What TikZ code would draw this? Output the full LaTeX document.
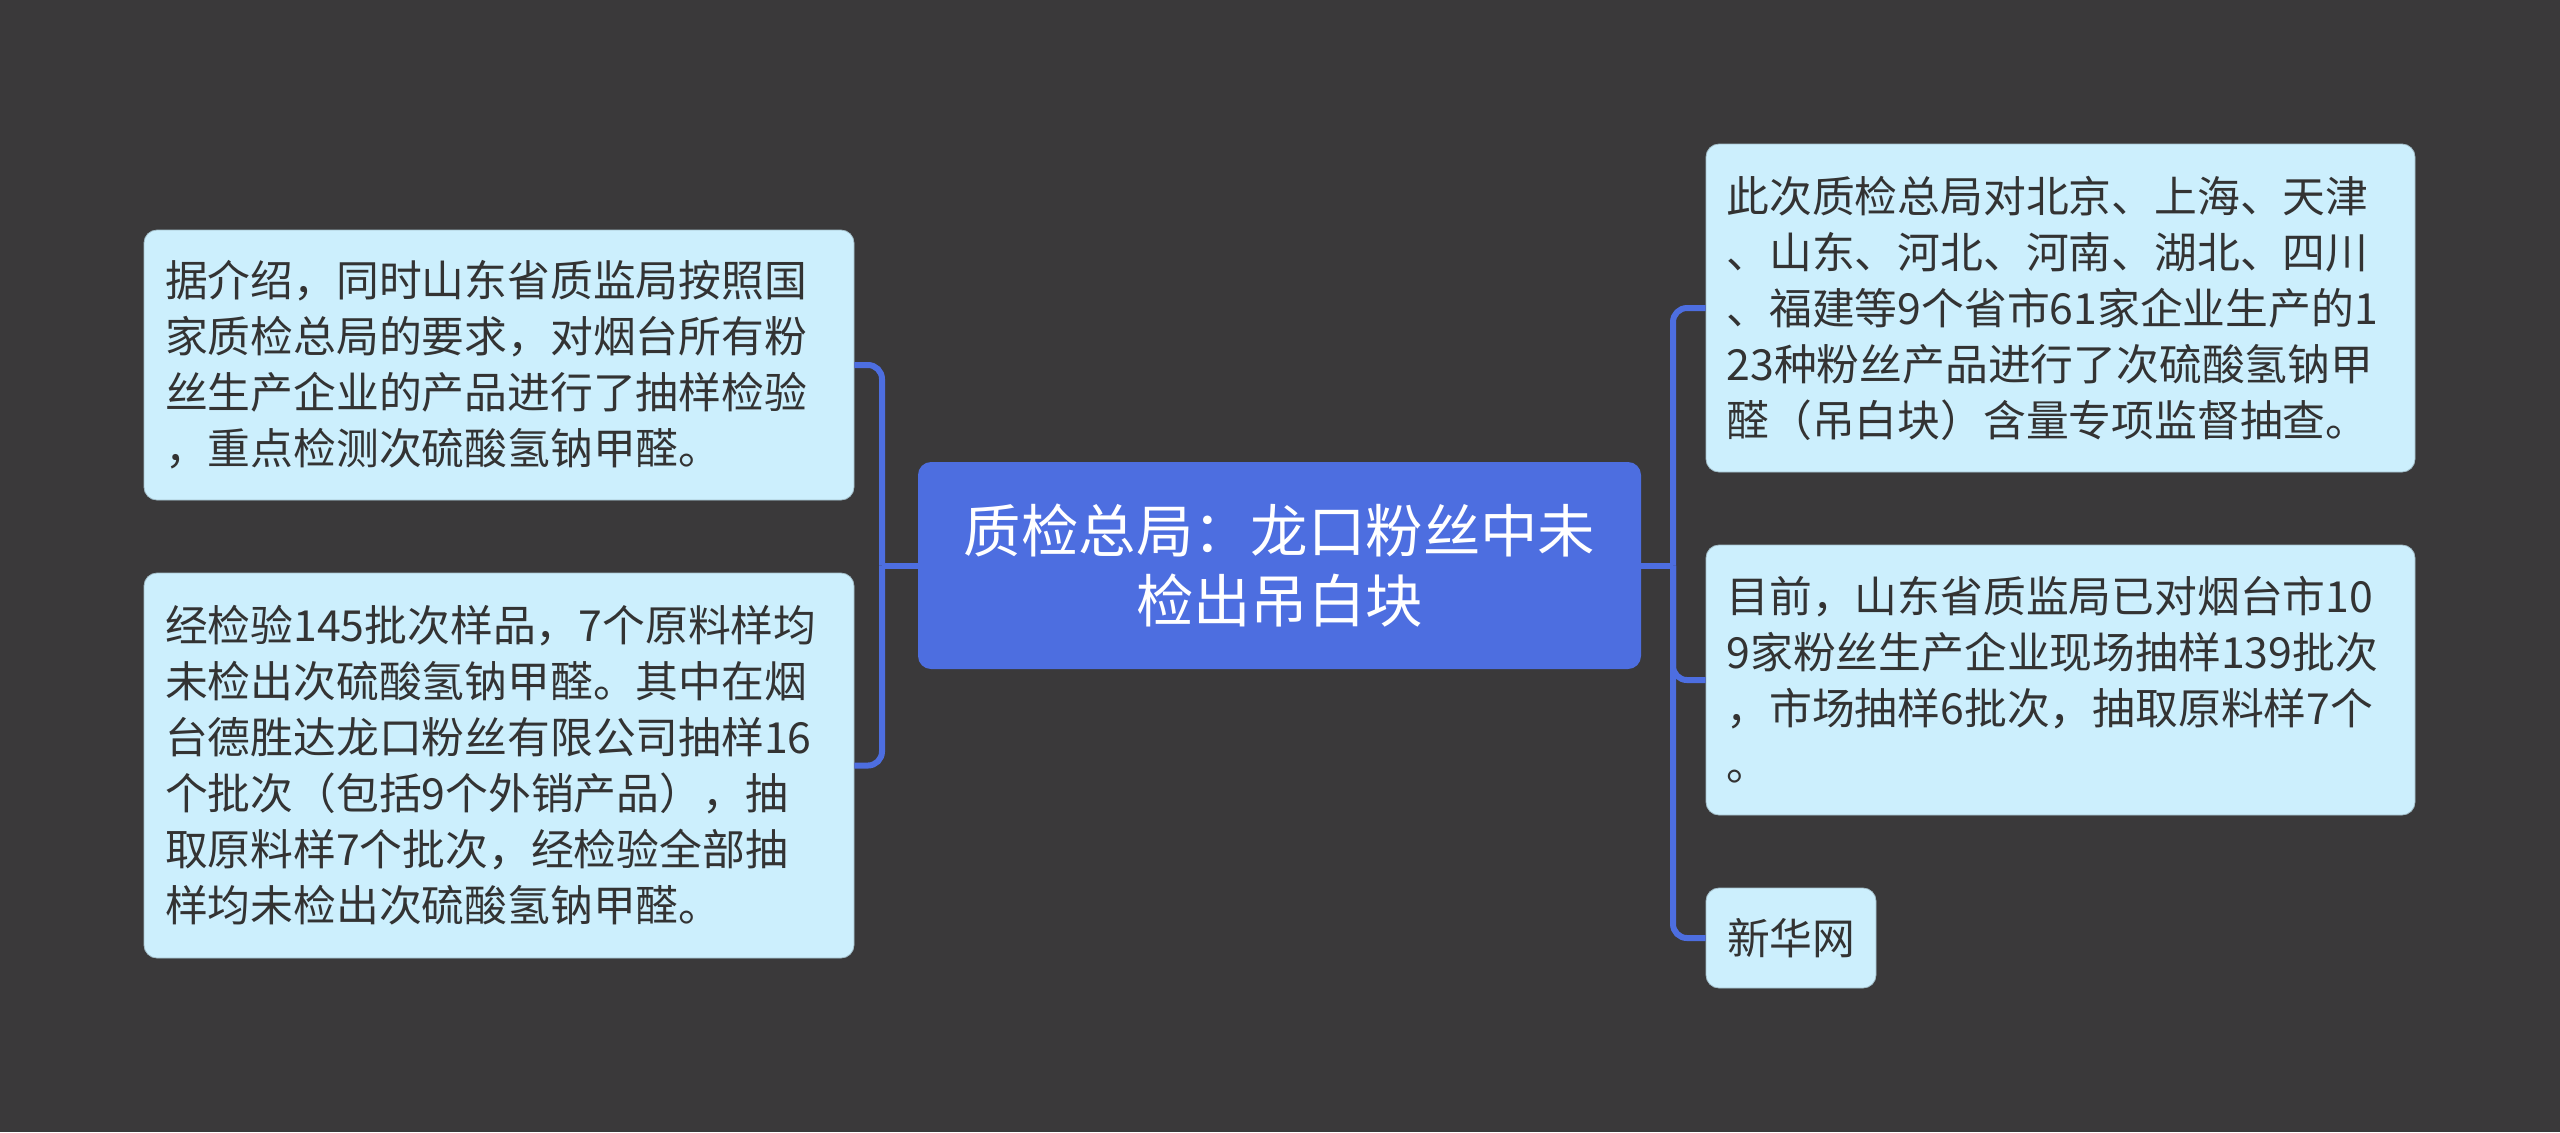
\documentclass[tikz,border=0pt]{standalone}
\usepackage{fontspec}
\setmainfont{Noto Sans CJK SC}
\usetikzlibrary{calc}
\definecolor{bgc}{HTML}{3A393A}
\definecolor{linec}{HTML}{4D6EE0}
\definecolor{mainc}{HTML}{4D6EE0}
\definecolor{leafc}{HTML}{CCEFFD}
\definecolor{txtc}{HTML}{333333}
\tikzset{
  leaf/.style={draw=leafc!80!black, line width=0.4pt, fill=leafc, rounded corners=6.5pt, inner sep=0pt,
    font=\fontsize{21.4pt}{28pt}\selectfont, text=txtc, align=left},
  mainnode/.style={fill=mainc, rounded corners=6.5pt, inner sep=0pt,
    font=\fontsize{28.7pt}{35pt}\selectfont, text=white, align=center},
  conn/.style={draw=linec, line width=3pt, rounded corners=7pt}
}
\begin{document}
\begin{tikzpicture}[x=0.5pt,y=-0.5pt]
\fill[bgc] (0,0) rectangle (2560,1132);
\useasboundingbox (0,0) rectangle (2560,1132);

\coordinate (cpos) at (1279.5,565.5);
\node[mainnode, minimum width=361.5pt, minimum height=103.5pt, text width=340pt] (c) at (cpos)
  {质检总局：龙口粉丝中未\\检出吊白块};

\coordinate (lj) at ($(cpos)+(-397.5,0)$);
\coordinate (rj) at ($(cpos)+(393.5,0)$);
\draw[conn] (c.west) -- (lj);
\draw[conn] (c.east) -- (rj);

\node[leaf, minimum width=355pt, minimum height=135pt, text width=334pt] (l1) at (499,365)
  {据介绍，同时山东省质监局按照国\\家质检总局的要求，对烟台所有粉\\丝生产企业的产品进行了抽样检验\\，重点检测次硫酸氢钠甲醛。};

\node[leaf, minimum width=355pt, minimum height=192.5pt, text width=334pt] (l2) at (499,765.5)
  {经检验145批次样品，7个原料样均\\未检出次硫酸氢钠甲醛。其中在烟\\台德胜达龙口粉丝有限公司抽样16\\个批次（包括9个外销产品），抽\\取原料样7个批次，经检验全部抽\\样均未检出次硫酸氢钠甲醛。};

\node[leaf, minimum width=354.5pt, minimum height=164pt, text width=334pt] (r1) at (2060.5,308)
  {此次质检总局对北京、上海、天津\\、山东、河北、河南、湖北、四川\\、福建等9个省市61家企业生产的1\\23种粉丝产品进行了次硫酸氢钠甲\\醛（吊白块）含量专项监督抽查。};

\node[leaf, minimum width=354.5pt, minimum height=135pt, text width=334pt] (r2) at (2060.5,680)
  {目前，山东省质监局已对烟台市10\\9家粉丝生产企业现场抽样139批次\\，市场抽样6批次，抽取原料样7个\\。};

\node[leaf, minimum width=85pt, minimum height=50pt, text width=64pt] (r3) at (1791,938)
  {新华网};

\draw[conn] (lj) |- (l1.east);
\draw[conn] (lj) |- (l2.east);
\draw[conn] (rj) |- (r1.west);
\draw[conn] (rj) |- (r2.west);
\draw[conn] (rj) |- (r3.west);
\end{tikzpicture}
\end{document}
